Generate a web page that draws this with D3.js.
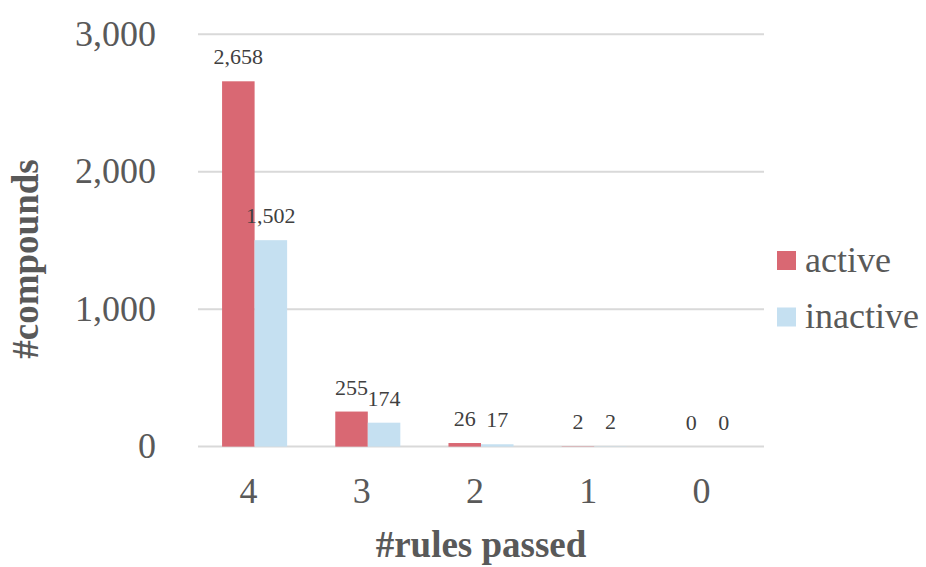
<!DOCTYPE html>
<html>
<head>
<meta charset="utf-8">
<script src="https://cdn.jsdelivr.net/npm/d3@7"></script>
<style>
  html, body { margin: 0; padding: 0; background: #fff; }
  svg { display: block; font-family: "Liberation Serif", Tinos, "Times New Roman", Times, "DejaVu Serif", serif; }
</style>
</head>
<body>
<svg id="chart" width="926" height="567"></svg>
<script>
const categories = ["4", "3", "2", "1", "0"];
const seriesNames = ["active", "inactive"];
const activeValues = [2658, 255, 26, 2, 0];
const inactiveValues = [1502, 174, 17, 2, 0];
const yTicks = [0, 1000, 2000, 3000];
const colors = { active: "#d96873", inactive: "#c5e0f1" };

const svg = d3.select("#chart");
const plot = { left: 198, right: 764, top: 34.3, bottom: 446.6 };

const x0 = d3.scaleBand().domain(categories).range([plot.left, plot.right]).paddingInner(0).paddingOuter(0);
const x1 = d3.scaleBand().domain(seriesNames).range([0, x0.bandwidth()]).paddingInner(0).paddingOuter(0.74);
const y = d3.scaleLinear().domain([0, 3000]).range([plot.bottom, plot.top]);

const data = categories.map((c, i) => ({ cat: c, active: activeValues[i], inactive: inactiveValues[i] }));

svg.append("g").selectAll("line").data(yTicks).join("line")
  .attr("x1", plot.left).attr("x2", plot.right)
  .attr("y1", d => y(d)).attr("y2", d => y(d))
  .attr("stroke", "#d9d9d9").attr("stroke-width", 2);

const fmt = d3.format(",");
svg.append("g").selectAll("text").data(yTicks).join("text")
  .attr("x", 156).attr("y", d => y(d) + 11.7)
  .attr("text-anchor", "end")
  .attr("font-size", 36).attr("fill", "#595959")
  .text(d => fmt(d));

const groups = svg.append("g").selectAll("g").data(data).join("g")
  .attr("transform", d => `translate(${x0(d.cat)},0)`);

groups.selectAll("rect").data(d => seriesNames.map(s => ({ s, v: d[s] }))).join("rect")
  .attr("x", d => x1(d.s)).attr("width", x1.bandwidth())
  .attr("y", d => y(d.v)).attr("height", d => y(0) - y(d.v))
  .attr("fill", d => colors[d.s]);

groups.selectAll("text").data(d => seriesNames.map(s => ({ s, v: d[s] }))).join("text")
  .attr("x", d => x1(d.s) + x1.bandwidth() / 2)
  .attr("y", d => y(d.v) - 17)
  .attr("text-anchor", "middle")
  .attr("font-size", 22).attr("fill", "#404040")
  .text(d => fmt(d.v));

svg.append("g").selectAll("text").data(categories).join("text")
  .attr("x", d => x0(d) + x0.bandwidth() / 2 - 6)
  .attr("y", 503.3)
  .attr("text-anchor", "middle")
  .attr("font-size", 36).attr("fill", "#595959")
  .text(d => d);

svg.append("text")
  .attr("x", (plot.left + plot.right) / 2).attr("y", 557)
  .attr("text-anchor", "middle")
  .attr("font-size", 37).attr("font-weight", "bold").attr("fill", "#595959")
  .text("#rules passed");

svg.append("text")
  .attr("transform", "translate(38,259) rotate(-90)")
  .attr("text-anchor", "middle")
  .attr("font-size", 37).attr("font-weight", "bold").attr("fill", "#595959")
  .text("#compounds");

const legend = svg.append("g").selectAll("g").data(seriesNames).join("g")
  .attr("transform", (d, i) => `translate(777,${251 + i * 56.5})`);
legend.append("rect").attr("width", 19).attr("height", 19).attr("fill", d => colors[d]);
legend.append("text").attr("x", 28).attr("y", 20.5)
  .attr("font-size", 36).attr("fill", "#595959").text(d => d);
</script>
</body>
</html>
